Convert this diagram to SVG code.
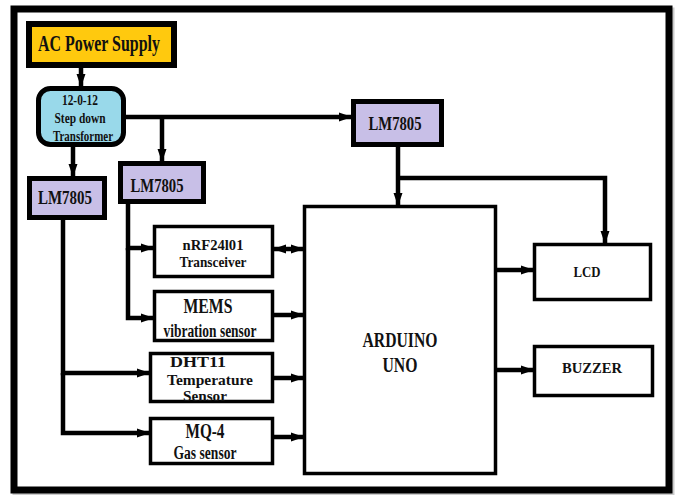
<svg xmlns="http://www.w3.org/2000/svg" width="679" height="495" viewBox="0 0 679 495">
<style>
text{font-family:"Liberation Serif","Times New Roman",serif;font-weight:bold;fill:#111;text-anchor:middle}
.box{fill:#fff;stroke:#000;stroke-width:3.5}
.lm{fill:#C8BFE7;stroke:#000;stroke-width:5}
.c{fill:none;stroke:#000;stroke-width:4.5}
</style>
<defs>
<marker id="ah" markerUnits="userSpaceOnUse" markerWidth="13" markerHeight="12" viewBox="0 0 13 12" refX="12" refY="6" orient="auto-start-reverse">
<path d="M0,1.5 L13,6 L0,10.5 Z" fill="#000"/>
</marker>
</defs>
<rect x="16" y="11" width="655" height="481" fill="#999" stroke="#999" stroke-width="7" opacity="0.5"/>
<rect x="14" y="9" width="655" height="481" fill="#fff" stroke="#000" stroke-width="7"/>
<g id="connectors">
<path class="c" d="M81,68 V86" marker-end="url(#ah)"/>
<path class="c" d="M73,147 V176" marker-end="url(#ah)"/>
<path class="c" d="M126,117 H351" marker-end="url(#ah)"/>
<path class="c" d="M162,117 V161" marker-end="url(#ah)"/>
<path class="c" d="M398,147 V205" marker-end="url(#ah)"/>
<path class="c" d="M398,178 H605 V243" marker-end="url(#ah)"/>
<path class="c" d="M128,204 V248 H153" marker-end="url(#ah)"/>
<path class="c" d="M128,248 V318 H153" marker-end="url(#ah)"/>
<path class="c" d="M63,220 V373 H149" marker-end="url(#ah)"/>
<path class="c" d="M63,373 V433 H149" marker-end="url(#ah)"/>
<path class="c" d="M274,249 H303" marker-start="url(#ah)" marker-end="url(#ah)"/>
<path class="c" d="M274,315 H303" marker-end="url(#ah)"/>
<path class="c" d="M274,378 H303" marker-end="url(#ah)"/>
<path class="c" d="M274,437 H303" marker-end="url(#ah)"/>
<path class="c" d="M497,270 H533" marker-end="url(#ah)"/>
<path class="c" d="M497,370 H533" marker-end="url(#ah)"/>
</g>
<g id="ac">
<rect x="29" y="24" width="145" height="41" fill="#FFC90E" stroke="#000" stroke-width="6"/>
<text x="99" y="51" font-size="23" textLength="122" lengthAdjust="spacingAndGlyphs">AC Power Supply</text>
</g>
<g id="transformer">
<rect x="38.5" y="88.5" width="85" height="56" rx="12" fill="#99D9EA" stroke="#000" stroke-width="5"/>
<text x="80" y="105" font-size="15" textLength="36" lengthAdjust="spacingAndGlyphs">12-0-12</text>
<text x="80" y="123" font-size="15" textLength="51" lengthAdjust="spacingAndGlyphs">Step down</text>
<text x="83" y="141" font-size="15" textLength="60" lengthAdjust="spacingAndGlyphs">Transformer</text>
</g>
<g id="lm_right">
<rect x="353.5" y="101.5" width="88" height="43" class="lm"/>
<text x="395" y="130" font-size="19" textLength="53" lengthAdjust="spacingAndGlyphs">LM7805</text>
</g>
<g id="lm_mid">
<rect x="120.5" y="163.5" width="83" height="38" class="lm"/>
<text x="157" y="192" font-size="19" textLength="53" lengthAdjust="spacingAndGlyphs">LM7805</text>
</g>
<g id="lm_left">
<rect x="29.5" y="178.5" width="75" height="39" class="lm"/>
<text x="65" y="204" font-size="19" textLength="54" lengthAdjust="spacingAndGlyphs">LM7805</text>
</g>
<g id="arduino">
<rect x="304.5" y="206.5" width="191" height="267" class="box"/>
<text x="400" y="347" font-size="21" textLength="75" lengthAdjust="spacingAndGlyphs">ARDUINO</text>
<text x="400" y="372" font-size="21" textLength="35" lengthAdjust="spacingAndGlyphs">UNO</text>
</g>
<g id="nrf">
<rect x="154.5" y="226.5" width="118" height="50" class="box"/>
<text x="213" y="250" font-size="15" textLength="61" lengthAdjust="spacingAndGlyphs">nRF24l01</text>
<text x="213" y="267" font-size="15" textLength="67" lengthAdjust="spacingAndGlyphs">Transceiver</text>
</g>
<g id="mems">
<rect x="154.5" y="291.5" width="118" height="49" class="box"/>
<text x="208" y="313" font-size="22" textLength="49" lengthAdjust="spacingAndGlyphs">MEMS</text>
<text x="210" y="337" font-size="18" textLength="93" lengthAdjust="spacingAndGlyphs">vibration sensor</text>
</g>
<g id="dht">
<rect x="150.5" y="353.5" width="122" height="48" class="box"/>
<text x="198" y="367" font-size="15" textLength="56" lengthAdjust="spacingAndGlyphs">DHT11</text>
<text x="210" y="385" font-size="15" textLength="86" lengthAdjust="spacingAndGlyphs">Temperature</text>
<text x="205" y="401" font-size="15" textLength="44" lengthAdjust="spacingAndGlyphs">Sensor</text>
</g>
<g id="mq4">
<rect x="150.5" y="418.5" width="122" height="45" class="box"/>
<text x="205" y="438" font-size="22" textLength="39" lengthAdjust="spacingAndGlyphs">MQ-4</text>
<text x="205" y="459" font-size="18" textLength="63" lengthAdjust="spacingAndGlyphs">Gas sensor</text>
</g>
<g id="lcd">
<rect x="534.5" y="244.5" width="116" height="55" class="box"/>
<text x="587" y="277" font-size="15" textLength="27" lengthAdjust="spacingAndGlyphs">LCD</text>
</g>
<g id="buzzer">
<rect x="534.5" y="346.5" width="118" height="49" class="box"/>
<text x="592" y="373" font-size="15" textLength="60" lengthAdjust="spacingAndGlyphs">BUZZER</text>
</g>
</svg>
